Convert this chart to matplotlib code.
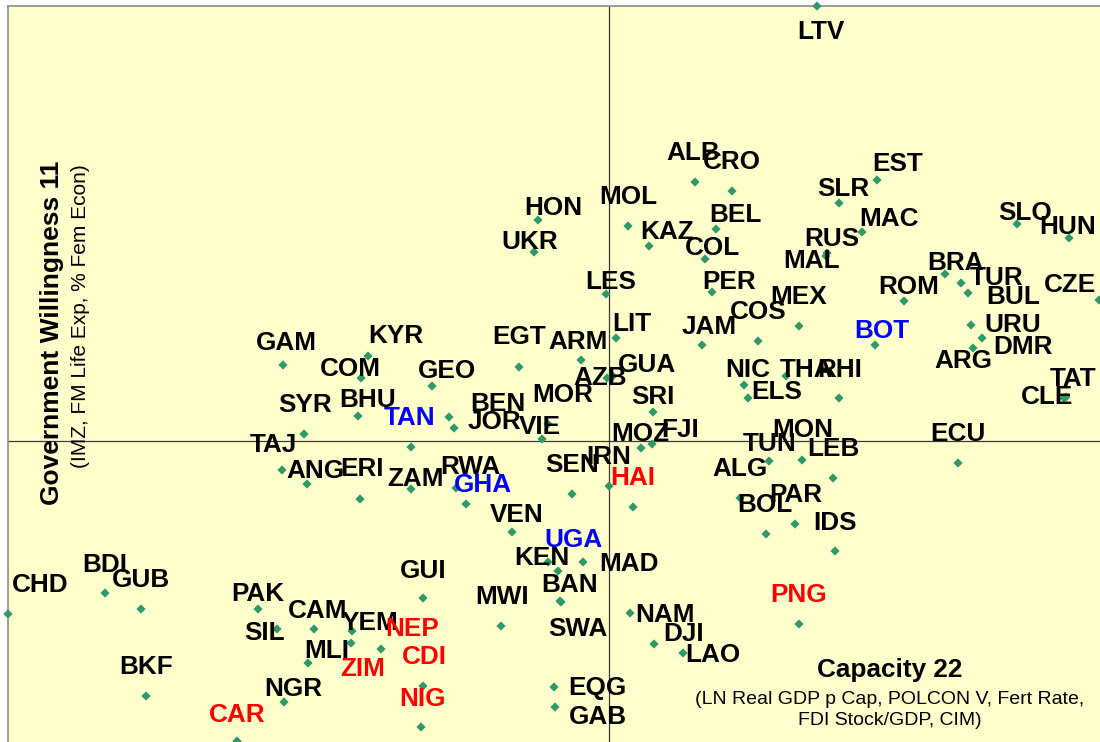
import matplotlib
matplotlib.use("Agg")
import matplotlib.pyplot as plt

# country codes, capacity score (x) and willingness score (y)
codes = ["LTV", "ALB", "CRO", "EST", "SLR", "HON", "MOL", "BEL", "MAC", "SLO",
         "HUN", "UKR", "KAZ", "RUS", "COL", "MAL", "LES", "PER", "BRA", "TUR",
         "BUL", "ROM", "CZE", "MEX", "COS", "JAM", "LIT", "BOT", "URU", "DMR",
         "ARG", "GAM", "KYR", "COM", "EGT", "ARM", "GEO", "AZB", "GUA", "NIC",
         "THA", "RHI", "ELS", "TAT", "CLE", "SYR", "BHU", "TAN", "BEN", "JOR",
         "MOR", "VIE", "SRI", "MOZ", "FJI", "MON", "TUN", "LEB", "ECU", "TAJ",
         "ANG", "ERI", "ZAM", "RWA", "GHA", "SEN", "IRN", "HAI", "ALG", "PAR",
         "BOL", "IDS", "VEN", "UGA", "KEN", "MAD", "BAN", "SWA", "CHD", "BDI",
         "GUB", "GUI", "MWI", "PAK", "SIL", "CAM", "YEM", "NEP", "MLI", "ZIM",
         "CDI", "NAM", "DJI", "LAO", "PNG", "BKF", "NGR", "NIG", "CAR", "EQG",
         "GAB"]
capacity = [2.08, 0.86, 1.23, 2.68, 2.30, -0.71, 0.19, 1.07, 2.53, 4.08,
            4.60, -0.75, 0.40, 2.18, 0.96, 2.17, -0.03, 1.03, 3.36, 3.52,
            3.59, 2.95, 4.90, 1.90, 1.49, 0.93, 0.07, 2.66, 3.62, 3.73,
            3.64, -3.26, -2.41, -2.48, -0.90, -0.28, -1.77, -0.02, 0.04, 1.35,
            1.77, 2.30, 1.39, 4.57, 4.55, -3.05, -2.51, -1.98, -1.60, -1.55,
            -0.61, -0.67, 0.44, 0.32, 0.43, 1.93, 1.60, 2.24, 3.49, -3.27,
            -3.02, -2.49, -1.98, -1.53, -1.43, -0.37, 0.00, 0.24, 1.31, 1.86,
            1.57, 2.26, -0.97, -0.51, -0.61, -0.26, -0.49, -0.48, -6.01, -5.04,
            -4.68, -1.86, -1.08, -3.51, -3.32, -2.95, -2.57, -2.28, -3.01, -2.58,
            -1.86, 0.21, 0.45, 0.74, 1.90, -4.63, -3.25, -1.88, -3.72, -0.55,
            -0.54]
willingness = [4.35, 2.59, 2.50, 2.61, 2.38, 2.21, 2.15, 2.12, 2.09, 2.17,
               2.03, 1.89, 1.95, 1.88, 1.82, 1.85, 1.47, 1.49, 1.67, 1.58,
               1.48, 1.40, 1.41, 1.15, 1.00, 0.96, 1.03, 0.96, 1.16, 1.03,
               0.93, 0.76, 0.85, 0.63, 0.74, 0.81, 0.55, 0.63, 0.65, 0.56,
               0.65, 0.43, 0.43, 0.44, 0.43, 0.07, 0.25, -0.06, 0.24, 0.13,
               0.17, 0.02, 0.29, -0.07, -0.03, -0.19, -0.20, -0.37, -0.22, -0.29,
               -0.43, -0.58, -0.48, -0.47, -0.63, -0.53, -0.45, -0.66, -0.57, -0.83,
               -0.93, -1.10, -0.91, -1.30, -1.21, -1.21, -1.60, -1.61, -1.73, -1.52,
               -1.68, -1.57, -1.85, -1.68, -1.88, -1.88, -1.90, -2.08, -2.22, -2.02,
               -2.45, -1.72, -2.03, -2.12, -1.83, -2.55, -2.61, -2.86, -3.00, -2.46,
               -2.66]
label_colors = ["black"] * len(codes)
for c in ["BOT", "TAN", "GHA", "UGA"]:
    label_colors[codes.index(c)] = "#0000FF"
for c in ["HAI", "PNG", "NEP", "ZIM", "CDI", "NIG", "CAR"]:
    label_colors[codes.index(c)] = "#FF0000"

# where each label sits relative to its marker (pixels, right / up)
label_offsets = [(4, -24), (-2, 31), (0, 31), (21, 18), (4, 16), (15, 14), (0, 31), (19, 16), (27, 15), (8, 13),
                 (-1, 13), (-4, 12), (18, 16), (5, 16), (7, 13), (-14, -3), (5, 14), (17, 12), (10, 13), (36, 7),
                 (45, -2), (5, 16), (-29, 17), (0, 31), (0, 31), (7, 20), (16, 16), (7, 16), (42, 2), (41, -7),
                 (-10, -11), (3, 24), (28, 22), (-11, 11), (0, 32), (-3, 20), (15, 17), (-7, 2), (34, 13), (4, 17),
                 (21, 8), (1, 30), (29, 8), (7, 20), (-17, 3), (1, 31), (10, 18), (-1, 31), (49, 15), (40, 8),
                 (15, 31), (-2, 14), (0, 17), (-1, 16), (28, 16), (1, 32), (1, 19), (0, 31), (0, 31), (-9, 27),
                 (8, 15), (2, 32), (4, 12), (14, 23), (17, 21), (0, 31), (0, 31), (0, 31), (0, 31), (1, 31),
                 (-1, 31), (0, 31), (5, 19), (15, 33), (-6, 6), (46, 0), (10, 18), (17, -24), (32, 31), (0, 30),
                 (0, 31), (0, 30), (1, 31), (0, 17), (-12, -1), (4, 20), (18, 11), (31, 22), (19, 14), (12, -24),
                 (1, 31), (35, 1), (30, 12), (30, 0), (0, 31), (0, 31), (9, 16), (1, 30), (0, 29), (43, 1),
                 (43, -7)]

plt.rcParams["font.family"] = ["Liberation Sans", "DejaVu Sans"]

fig = plt.figure(figsize=(11, 7.42), dpi=100, facecolor="white")
# axes runs past the right and bottom edges of the figure, as in the cropped original
ax = fig.add_axes([8 / 1100, (742 - 760) / 742, 1112 / 1100, 754 / 742])
ax.set_facecolor("#FFFFCC")
ax.set_xlim(-6.01, 5.11)
ax.set_ylim(-3.19, 4.35)

ax.axhline(0, color="#3a3a3a", lw=0.9, zorder=1)
ax.axvline(0, color="#3a3a3a", lw=0.9, zorder=1)

ax.scatter(capacity, willingness, marker="D", s=22, color="#2E9A6A",
           edgecolors="none", zorder=3, clip_on=False)

for code, x, y, col, off in zip(codes, capacity, willingness, label_colors, label_offsets):
    ax.annotate(code, (x, y), xytext=off, textcoords="offset pixels",
                ha="center", va="center_baseline", fontsize=18.8, fontweight="bold",
                color=col, zorder=4, annotation_clip=False)

for side in ["right", "bottom"]:
    ax.spines[side].set_visible(False)
for side in ["left", "top"]:
    ax.spines[side].set_color("#8c8c8c")
    ax.spines[side].set_linewidth(1.2)
ax.set_xticks([])
ax.set_yticks([])

fig.text(52 / 1100, 1 - 333 / 742, "Government Willingness 11", rotation=90,
         ha="center", va="center", fontsize=19, fontweight="bold")
fig.text(81 / 1100, 1 - 316 / 742, "(IMZ, FM Life Exp, % Fem Econ)", rotation=90,
         ha="center", va="center", fontsize=15)
fig.text(890 / 1100, 1 - 670 / 742, "Capacity 22", ha="center", va="center",
         fontsize=18.8, fontweight="bold")
fig.text(890 / 1100, 1 - 710 / 742, "(LN Real GDP p Cap, POLCON V, Fert Rate,\nFDI Stock/GDP, CIM)",
         ha="center", va="center", fontsize=14, linespacing=1.3)

fig.savefig("out.png", dpi=100, facecolor="white")
